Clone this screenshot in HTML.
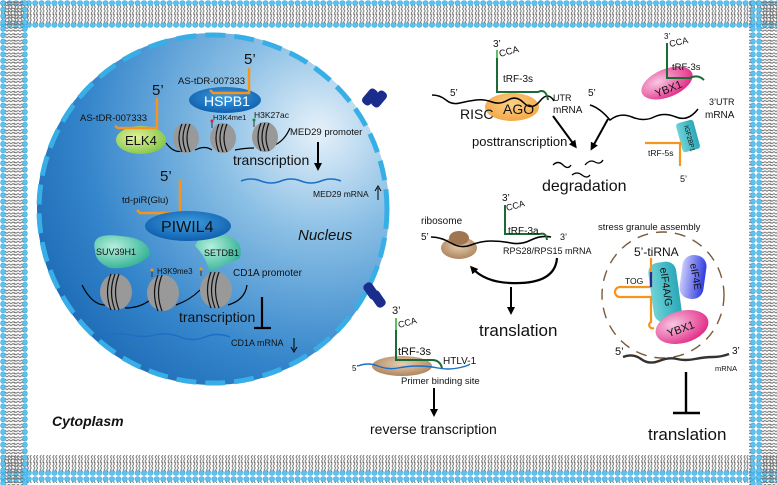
<!DOCTYPE html>
<html><head><meta charset="utf-8"><style>
html,body{margin:0;padding:0;background:#fff}
svg{display:block}
text{font-family:"Liberation Sans",sans-serif;fill:#111}
</style></head><body>
<svg width="777" height="485" viewBox="0 0 777 485" xmlns="http://www.w3.org/2000/svg">
<defs>
<pattern id="mh" width="6.4" height="28" patternUnits="userSpaceOnUse">
<path d="M1.6 5 l1.3 2 -1.3 2 1.3 2 -1.3 2 1.3 2 M4.4 5 l1.3 2 -1.3 2 1.3 2 -1.3 2 1.3 2 M1.6 14 l1.3 2 -1.3 2 1.3 2 -1.3 2 1.3 2 M4.4 14 l1.3 2 -1.3 2 1.3 2 -1.3 2 1.3 2" stroke="#6e6e6e" stroke-width="0.9" fill="none"/>
<ellipse cx="3.2" cy="3" rx="2.7" ry="2.4" fill="#5ec2ef" stroke="#2a9bd4" stroke-width="0.5"/>
<ellipse cx="3.2" cy="25" rx="2.7" ry="2.4" fill="#5ec2ef" stroke="#2a9bd4" stroke-width="0.5"/>
</pattern>
<pattern id="mv" width="28" height="6.4" patternUnits="userSpaceOnUse">
<path d="M5 1.6 l2 1.3 2 -1.3 2 1.3 2 -1.3 2 1.3 M5 4.4 l2 1.3 2 -1.3 2 1.3 2 -1.3 2 1.3 M14 1.6 l2 1.3 2 -1.3 2 1.3 2 -1.3 2 1.3 M14 4.4 l2 1.3 2 -1.3 2 1.3 2 -1.3 2 1.3" stroke="#6e6e6e" stroke-width="0.9" fill="none"/>
<ellipse cx="3" cy="3.2" rx="2.4" ry="2.7" fill="#5ec2ef" stroke="#2a9bd4" stroke-width="0.5"/>
<ellipse cx="25" cy="3.2" rx="2.4" ry="2.7" fill="#5ec2ef" stroke="#2a9bd4" stroke-width="0.5"/>
</pattern>
<radialGradient id="nuc" cx="0.8" cy="0.28" r="0.95">
<stop offset="0" stop-color="#e6f1fa"/><stop offset="0.3" stop-color="#8cc0e5"/><stop offset="0.7" stop-color="#3485cb"/><stop offset="1" stop-color="#1764b0"/>
</radialGradient>
<radialGradient id="blu" cx="0.5" cy="0.4" r="0.6"><stop offset="0" stop-color="#3f9ee0"/><stop offset="1" stop-color="#0f5fae"/></radialGradient>
<radialGradient id="grn" cx="0.4" cy="0.4" r="0.7"><stop offset="0" stop-color="#e3f29a"/><stop offset="1" stop-color="#7cc242"/></radialGradient>
<radialGradient id="tea" cx="0.35" cy="0.35" r="0.8"><stop offset="0" stop-color="#b5f0dc"/><stop offset="1" stop-color="#1fa88a"/></radialGradient>
<radialGradient id="pnk" cx="0.35" cy="0.35" r="0.8"><stop offset="0" stop-color="#f7c8e2"/><stop offset="1" stop-color="#e0167a"/></radialGradient>
<radialGradient id="org" cx="0.5" cy="0.4" r="0.7"><stop offset="0" stop-color="#fbd08a"/><stop offset="1" stop-color="#f2a13a"/></radialGradient>
<radialGradient id="brn" cx="0.5" cy="0.4" r="0.7"><stop offset="0" stop-color="#e6cfb2"/><stop offset="1" stop-color="#a57850"/></radialGradient>
<linearGradient id="eif" x1="0" x2="1"><stop offset="0" stop-color="#6fd3d8"/><stop offset="1" stop-color="#2aa8b8"/></linearGradient>
<linearGradient id="e4e" x1="0" x2="1"><stop offset="0" stop-color="#c7c8fb"/><stop offset="1" stop-color="#2f3be0"/></linearGradient>
<marker id="ar" markerWidth="8" markerHeight="8" refX="5" refY="4" orient="auto" markerUnits="userSpaceOnUse"><path d="M0 0 L8 4 L0 8 Z" fill="#000"/></marker>
</defs>

<!-- membrane -->
<rect x="0" y="0" width="777" height="28" fill="url(#mh)"/>
<rect x="0" y="455" width="777" height="28" fill="url(#mh)" transform="translate(0,0)"/>
<rect x="0" y="0" width="28" height="485" fill="url(#mv)"/>
<rect x="749" y="0" width="28" height="485" fill="url(#mv)"/>
<rect x="28" y="28" width="721" height="427" fill="#fff"/>

<!-- nucleus -->
<circle cx="213" cy="209" r="176" fill="url(#nuc)"/>
<circle cx="213" cy="209" r="174" fill="none" stroke="#38aee6" stroke-width="5" stroke-dasharray="20 9"/>
<g fill="#1b2d8c"><rect x="365" y="88" width="10" height="18" rx="4" transform="rotate(40 370 97)"/><rect x="374" y="90" width="10" height="18" rx="4" transform="rotate(40 379 99)"/>
<rect x="366" y="282" width="10" height="18" rx="4" transform="rotate(-35 371 291)"/><rect x="373" y="290" width="10" height="18" rx="4" transform="rotate(-35 378 299)"/></g>

<!-- HSPB1 / ELK4 -->
<ellipse cx="225" cy="100" rx="36" ry="13" fill="url(#blu)"/>
<text x="204" y="106" font-size="14" style="fill:#fff">HSPB1</text>
<text x="244" y="64" font-size="15">5’</text>
<path d="M249 68 V93 H213 l-3 -3" stroke="#f7941d" stroke-width="2.5" fill="none"/>
<text x="178" y="84" font-size="9.5">AS-tDR-007333</text>
<ellipse cx="141" cy="140" rx="25" ry="14" fill="url(#grn)"/>
<text x="125" y="145" font-size="13">ELK4</text>
<text x="152" y="95" font-size="15">5’</text>
<path d="M157 98 V128 H118 l-3 -2" stroke="#f7941d" stroke-width="2.5" fill="none"/>
<text x="80" y="121" font-size="9.5">AS-tDR-007333</text>
<path d="M166 143 Q175 155 185 150 M195 150 Q205 145 212 150 M235 150 Q245 148 254 148 M275 145 Q285 140 290 128" stroke="#000" stroke-width="1.2" fill="none"/>
<g fill="#999"><ellipse cx="186" cy="138" rx="13" ry="15"/><ellipse cx="223" cy="138" rx="13" ry="15"/><ellipse cx="265" cy="137" rx="13" ry="15"/></g>
<g stroke="#111" stroke-width="1.2" fill="none"><path d="M182 124 q-6 14 0 28 M186 124 q-6 14 0 28 M190 124 q-6 14 0 28"/><path d="M219 124 q-6 14 0 28 M223 124 q-6 14 0 28 M227 124 q-6 14 0 28"/><path d="M261 123 q-6 14 0 28 M265 123 q-6 14 0 28 M269 123 q-6 14 0 28"/></g>
<line x1="212" y1="122" x2="212" y2="128" stroke="#333"/><circle cx="212" cy="121" r="1.5" fill="#e02020"/>
<line x1="254" y1="121" x2="254" y2="127" stroke="#333"/><circle cx="254" cy="120" r="1.5" fill="#1a8a3a"/>
<text x="213" y="120" font-size="7.5">H3K4me1</text>
<text x="254" y="118" font-size="8.5">H3K27ac</text>
<text x="290" y="135" font-size="9.5">MED29 promoter</text>
<line x1="318" y1="142" x2="318" y2="168" stroke="#000" stroke-width="2" marker-end="url(#ar)"/>
<text x="233" y="165" font-size="14">transcription</text>
<path d="M241 181 q10 -4 20 0 t20 0 t20 0 t20 0 t20 0" stroke="#1b6fc4" stroke-width="1.6" fill="none"/>
<text x="313" y="197" font-size="8.5">MED29 mRNA</text>
<path d="M378 200 V188 M375 191 L378 186 L381 191" stroke="#000" fill="none"/>

<!-- PIWIL4 -->
<text x="160" y="181" font-size="15">5’</text>
<path d="M180 180 V213 H140 l-3 -3" stroke="#f7941d" stroke-width="2.5" fill="none"/>
<text x="122" y="203" font-size="9.5">td-piR(Glu)</text>
<path d="M95 250 Q90 232 120 236 Q150 238 150 255 Q135 270 110 268 Q95 262 95 250Z" fill="url(#tea)"/>
<path d="M195 246 Q200 232 220 234 Q245 238 240 258 Q225 265 210 272 Q205 255 195 246Z" fill="url(#tea)"/>
<ellipse cx="188" cy="226" rx="43" ry="15" fill="url(#blu)"/>
<text x="161" y="232" font-size="16" style="fill:#111">PIWIL4</text>
<text x="96" y="255" font-size="9">SUV39H1</text>
<text x="204" y="256" font-size="9">SETDB1</text>
<path d="M82 285 Q92 305 105 305 M125 308 Q140 308 150 300 M176 305 Q190 300 200 290 M228 305 Q245 300 247 285" stroke="#000" stroke-width="1.2" fill="none"/>
<g fill="#999"><ellipse cx="116" cy="292" rx="16" ry="18"/><ellipse cx="163" cy="293" rx="16" ry="18"/><ellipse cx="216" cy="290" rx="16" ry="18"/></g>
<g stroke="#111" stroke-width="1.2" fill="none"><path d="M111 274 q-7 18 0 36 M115 274 q-7 18 0 36 M119 274 q-7 18 0 36"/><path d="M158 275 q-7 18 0 36 M162 275 q-7 18 0 36"/><path d="M211 272 q-7 18 0 36 M215 272 q-7 18 0 36 M219 272 q-7 18 0 36"/></g>
<line x1="152" y1="271" x2="152" y2="277" stroke="#333"/><circle cx="152" cy="270" r="1.5" fill="#f7941d"/>
<line x1="201" y1="270" x2="201" y2="276" stroke="#333"/><circle cx="201" cy="269" r="1.5" fill="#f7941d"/>
<text x="157" y="274" font-size="8">H3K9me3</text>
<text x="233" y="276" font-size="10">CD1A promoter</text>
<text x="179" y="322" font-size="14">transcription</text>
<path d="M262 297 V327 M254 328 H271" stroke="#000" stroke-width="2.2" fill="none"/>
<path d="M105 335 q12 -3 25 0 t25 0 t25 2 t25 0 t25 0" stroke="#1b6fc4" stroke-width="1.4" fill="none"/>
<text x="231" y="346" font-size="9">CD1A mRNA</text>
<path d="M294 338 V350 M291 347 L294 352 L297 347" stroke="#000" fill="none"/>
<text x="298" y="240" font-size="15" font-style="italic">Nucleus</text>
<text x="52" y="426" font-size="14" font-weight="bold" font-style="italic">Cytoplasm</text>

<!-- tRF-3s / AGO -->
<ellipse cx="512" cy="107" rx="27" ry="14" fill="url(#org)"/>
<path d="M432 95 q8 0 14 5 t14 3 t16 -3 t16 2 t16 -2 t16 3 t16 -2 t14 0" stroke="#000" stroke-width="1.5" fill="none"/>
<path d="M497 50 V92 H538 q8 -4 10 8" stroke="#1a6b35" stroke-width="2" fill="none"/>
<line x1="497" y1="50" x2="497" y2="58" stroke="#5cc060" stroke-width="2"/>
<text x="493" y="47" font-size="10">3’</text>
<text x="500" y="57" font-size="9.5" transform="rotate(-15 500 57)">CCA</text>
<text x="503" y="82" font-size="10">tRF-3s</text>
<text x="450" y="96" font-size="10">5’</text>
<text x="460" y="119" font-size="14">RISC</text>
<text x="503" y="114" font-size="14">AGO</text>
<text x="553" y="101" font-size="9">UTR</text>
<text x="553" y="113" font-size="10">mRNA</text>
<text x="472" y="146" font-size="13">posttranscription</text>
<line x1="553" y1="116" x2="575" y2="146" stroke="#000" stroke-width="2" marker-end="url(#ar)"/>
<line x1="608" y1="119" x2="592" y2="148" stroke="#000" stroke-width="2" marker-end="url(#ar)"/>
<path d="M553 165 q5 -5 10 0 t8 0 M585 165 q5 -6 10 -3 t8 -2 M572 175 q5 -4 10 0 t8 0" stroke="#000" stroke-width="1.3" fill="none"/>
<text x="542" y="191" font-size="16">degradation</text>

<!-- YBX1 -->
<path d="M590 105 q10 3 20 15 q10 -8 22 -3 t22 0 t22 0 t22 -8" stroke="#000" stroke-width="1.5" fill="none"/>
<ellipse cx="667" cy="83" rx="27" ry="14" fill="url(#pnk)" transform="rotate(-22 667 83)"/>
<text x="654" y="93" font-size="11" transform="rotate(-22 667 88)">YBX1</text>
<path d="M667 43 V78 H690 q8 -4 14 2" stroke="#1a6b35" stroke-width="2" fill="none"/>
<text x="664" y="39" font-size="8">3’</text>
<text x="670" y="47" font-size="9" transform="rotate(-12 670 47)">CCA</text>
<text x="672" y="70" font-size="9.5">tRF-3s</text>
<text x="588" y="96" font-size="10">5’</text>
<text x="709" y="105" font-size="9">3’UTR</text>
<text x="705" y="118" font-size="10">mRNA</text>
<rect x="679" y="121" width="18" height="30" rx="3" fill="url(#eif)" transform="rotate(-15 688 136)"/>
<text x="684" y="126" font-size="6.5" transform="rotate(75 684 126)">IGF2BP1</text>
<path d="M645 143 H680 V166" stroke="#f7941d" stroke-width="2.2" fill="none"/>
<text x="648" y="156" font-size="8.5">tRF-5s</text>
<text x="680" y="182" font-size="9">5’</text>

<!-- translation (ribosome) -->
<text x="421" y="224" font-size="10">ribosome</text>
<text x="421" y="240" font-size="10">5’</text>
<ellipse cx="459" cy="248" rx="18" ry="11" fill="url(#brn)"/>
<ellipse cx="459" cy="238" rx="10" ry="7" fill="#a07650"/>
<path d="M431 237 q10 0 20 6 t20 2 t20 -4 t20 2 t20 -3 t20 -3" stroke="#000" stroke-width="1.6" fill="none"/>
<path d="M505 205 V234 H540 q6 -2 7 6" stroke="#1a6b35" stroke-width="2" fill="none"/>
<text x="502" y="201" font-size="10">3’</text>
<text x="507" y="211" font-size="9" transform="rotate(-15 507 211)">CCA</text>
<text x="508" y="234" font-size="10">tRF-3a</text>
<text x="560" y="240" font-size="9">3’</text>
<text x="503" y="254" font-size="9">RPS28/RPS15 mRNA</text>
<path d="M557 258 Q555 285 510 283 Q485 282 472 268" stroke="#000" stroke-width="2.2" fill="none" marker-end="url(#ar)"/>
<line x1="511" y1="287" x2="511" y2="312" stroke="#000" stroke-width="2" marker-end="url(#ar)"/>
<text x="479" y="336" font-size="17">translation</text>

<!-- reverse transcription -->
<ellipse cx="402" cy="366" rx="30" ry="10" fill="url(#brn)"/>
<path d="M396 318 V360 H432 q8 0 10 8" stroke="#1a6b35" stroke-width="2" fill="none"/>
<line x1="396" y1="318" x2="396" y2="330" stroke="#5cc060" stroke-width="2"/>
<text x="392" y="314" font-size="11">3’</text>
<text x="399" y="328" font-size="9" transform="rotate(-15 399 328)">CCA</text>
<text x="398" y="355" font-size="11">tRF-3s</text>
<path d="M358 366 q10 -4 20 0 t20 2 t20 -2 t20 2 t20 0 t12 -4" stroke="#1b6fc4" stroke-width="1.4" fill="none"/>
<text x="352" y="371" font-size="8">5’</text>
<text x="443" y="364" font-size="10">HTLV-1</text>
<text x="401" y="384" font-size="9.5">Primer binding site</text>
<line x1="434" y1="388" x2="434" y2="414" stroke="#000" stroke-width="2" marker-end="url(#ar)"/>
<text x="370" y="434" font-size="14">reverse transcription</text>

<!-- stress granule -->
<text x="598" y="230" font-size="9.5">stress granule assembly</text>
<ellipse cx="663" cy="295" rx="61" ry="63" fill="none" stroke="#7a5a3a" stroke-width="1.4" stroke-dasharray="11 8"/>
<text x="634" y="256" font-size="12">5’-tiRNA</text>
<rect x="651" y="262" width="28" height="60" rx="10" fill="url(#eif)" transform="rotate(-8 665 292)"/>
<text x="660" y="268" font-size="10.5" transform="rotate(82 660 268)">eIF4A/G</text>
<rect x="681" y="255" width="24" height="44" rx="11" fill="url(#e4e)" transform="rotate(8 693 277)"/>
<text x="690" y="264" font-size="10" transform="rotate(80 690 264)">eIF4E</text>
<ellipse cx="682" cy="327" rx="27" ry="16" fill="url(#pnk)" transform="rotate(-15 682 327)"/>
<text x="667" y="333" font-size="11" transform="rotate(-20 680 330)">YBX1</text>
<path d="M651 258 V287 H620 a5 5 0 0 0 0 10 H651 V322 a3 3 0 0 0 3 6" stroke="#f7941d" stroke-width="2.2" fill="none"/>
<line x1="651" y1="272" x2="651" y2="287" stroke="#2a2a8c" stroke-width="2.2"/>
<text x="625" y="284" font-size="8.5">TOG</text>
<path d="M623 357 q10 -4 18 2 t18 2 t18 -2 t18 0 t18 -2 t16 -3" stroke="#333" stroke-width="2.4" fill="none"/>
<text x="615" y="355" font-size="11">5’</text>
<text x="732" y="354" font-size="10">3’</text>
<text x="715" y="371" font-size="7.5">mRNA</text>
<path d="M686 372 V412 M673 413 H700" stroke="#000" stroke-width="2.4" fill="none"/>
<text x="648" y="440" font-size="17">translation</text>
</svg>
</body></html>
